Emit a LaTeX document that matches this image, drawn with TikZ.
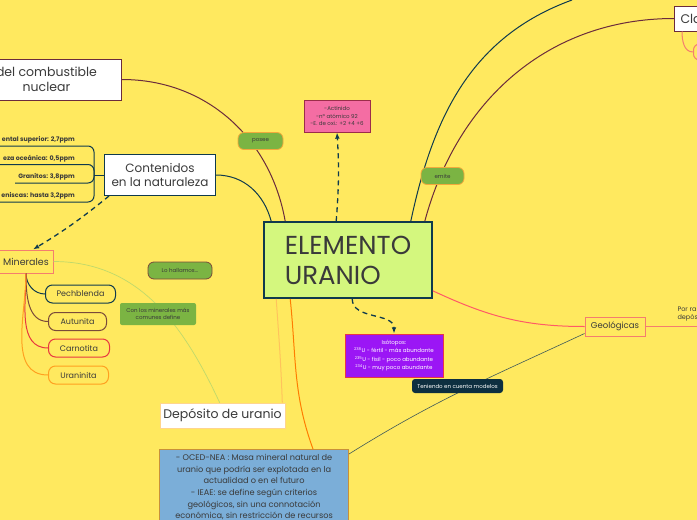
\documentclass[tikz,border=0pt]{standalone}
\usepackage{fontspec}
\setmainfont{Poppins}
\usetikzlibrary{arrows.meta}

\definecolor{paper}{HTML}{FFE95F}
\definecolor{ink}{HTML}{3A3A3A}
\definecolor{limefill}{HTML}{D4F77E}
\definecolor{teal}{HTML}{0F3A4D}
\definecolor{plum}{HTML}{6B2B3C}
\definecolor{salmon}{HTML}{F47E6E}
\definecolor{pinkfill}{HTML}{F46DA3}
\definecolor{pinkedge}{HTML}{9B2D4A}
\definecolor{violet}{HTML}{9B16F5}
\definecolor{violetedge}{HTML}{E8334A}
\definecolor{bluefill}{HTML}{7BAED8}
\definecolor{blueedge}{HTML}{C8903A}
\definecolor{tagg}{HTML}{7BB443}
\definecolor{tagedge}{HTML}{F2A93B}
\definecolor{brownish}{HTML}{7A4A3A}
\definecolor{navy}{HTML}{0D2F40}
\definecolor{lgreen}{HTML}{BFD96B}
\definecolor{lorange}{HTML}{FFC35C}
\definecolor{orange}{HTML}{FF7C00}
\definecolor{redline}{HTML}{FF5A66}
\definecolor{slate}{HTML}{3F5A5A}
\definecolor{carn}{HTML}{E8383F}
\definecolor{uran}{HTML}{FFA020}

\begin{document}
\begin{tikzpicture}[
  x=1pt,
  y=1pt,
  >=Latex,
  topic/.style={draw, fill=white, line width=1pt, align=center, text=ink,
    inner sep=2pt},
  pill/.style={draw, rounded corners=7pt, fill=paper, line width=1pt,
    font=\fontsize{8}{9}\selectfont, text=ink, minimum height=18, anchor=west},
  tag/.style={fill=tagg, rounded corners=6pt, draw=tagedge, line width=.8pt,
    font=\fontsize{5.5}{6.5}\selectfont, text=ink, align=center, inner sep=1pt,
    minimum height=17},
  ppm/.style={font=\fontsize{6.3}{7}\bfseries\selectfont, text=ink, anchor=south east,
    inner xsep=3pt, inner ysep=2.5pt},
  link/.style={line width=1pt},
  dashlink/.style={-{Latex[length=2.2mm]}, line width=1.3pt, dash pattern=on 5pt off 4pt, teal}
]
\fill[paper] (0,0) rectangle (697,-520);
\useasboundingbox (0,0) rectangle (697,-520);

% main topics
\node[draw=teal, fill=limefill, line width=1.6pt, align=left, minimum width=168,
  minimum height=76, font=\fontsize{26}{30}\selectfont, text=ink] (centro) at (348,-260) {ELEMENTO\\URANIO};
\node[topic, draw=plum, anchor=east, minimum width=150, minimum height=41,
  font=\fontsize{12.5}{15}\selectfont] (ciclo) at (122,-79.5) {del combustible\\nuclear};
\node[topic, draw=teal, minimum width=111, minimum height=41,
  font=\fontsize{12}{14.5}\selectfont] (conten) at (160,-175) {Contenidos\\en la naturaleza};
\node[topic, draw=lorange!70, line width=.6pt, minimum width=125, minimum height=25,
  font=\fontsize{12.5}{15}\selectfont] (deposito) at (222.5,-415.5) {Depósito de uranio};
\node[topic, draw=plum, anchor=west, text width=50, align=left, inner xsep=6pt,
  minimum height=25, font=\fontsize{12.5}{15}\selectfont] (clasif) at (674,-18.5) {Cla};
\node[draw=salmon, line width=1pt, rounded corners=6pt, anchor=west, minimum width=30,
  minimum height=16] (clasub) at (693,-52) {};
\node[draw=salmon, fill=paper, line width=1pt, minimum width=60, minimum height=19,
  font=\fontsize{8.5}{10}\selectfont, text=ink] (geol) at (615,-326.5) {Geológicas};
\node[anchor=west, align=left, font=\fontsize{6.5}{8}\selectfont, text=ink] (porra) at (674,-314) {Por ra\\depós};

% info boxes
\node[draw=pinkedge, fill=pinkfill, line width=.8pt, align=center, minimum width=66,
  minimum height=32, font=\fontsize{5.5}{7.5}\selectfont, text=ink] (actin) at (337,-116)
  {-Actínido\\-nº atómico 92\\-E. de oxi.: +2 +4 +6};
\node[draw=violetedge, fill=violet, line width=.8pt, align=center, minimum width=98,
  minimum height=43, font=\fontsize{5.5}{8.5}\selectfont, text=white] (isot) at (394,-355.5)
  {Isótopos:\\\textsuperscript{238}U - fértil - más abundante\\
   \textsuperscript{235}U - fisil - poco abundante\\\textsuperscript{234}U - muy poco abundante};
\node[draw=blueedge, fill=bluefill, line width=.8pt, anchor=north east, align=center,
  minimum width=189, inner xsep=2pt, inner ysep=5pt, font=\fontsize{8.2}{11.6}\selectfont,
  text=ink] (defin) at (349,-449)
  {- OCED-NEA : Masa mineral natural de\\uranio que podría ser explotada en la\\
   actualidad o en el futuro\\- IEAE: se define según criterios\\geológicos, sin una
   connotación\\económica, sin restricción de recursos};

% contenidos
\node[ppm] (ppmA) at (78,-146) {ental superior: 2,7ppm};
\node[ppm] (ppmB) at (78,-164.5) {eza oceánica: 0,5ppm};
\node[ppm] (ppmC) at (78,-183) {Granitos: 3,8ppm};
\node[ppm] (ppmD) at (78,-202) {eniscas: hasta 3,2ppm};
\coordinate (ppmJoin) at ([xshift=-10pt]conten.west);

% minerales
\node[draw=salmon, fill=paper, line width=1pt, minimum width=54, minimum height=23,
  font=\fontsize{9.5}{11}\selectfont, text=ink] (miner) at (26,-261.5) {Minerales};
\node[pill, draw=teal, minimum width=70] (pech) at (45,-294) {Pechblenda};
\node[pill, draw=brownish, minimum width=58] (autu) at (48,-321.5) {Autunita};
\node[pill, draw=carn, minimum width=61] (carno) at (48,-348) {Carnotita};
\node[pill, draw=uran, minimum width=60] (urani) at (48,-375) {Uraninita};

\coordinate (topExit) at (572,0);
\coordinate (geolExit) at (700,-326.5);

% connectors
\draw[link, plum] (ciclo.east) to[out=0,in=100] ([xshift=22pt]centro.north west);
\draw[link, teal] (conten.east) to[out=0,in=105] ([xshift=8pt]centro.north west);
\draw[link, teal, rounded corners=6pt] (ppmA.south west) -| (ppmJoin);
\draw[link, teal, rounded corners=6pt] (ppmB.south west) -| (ppmJoin);
\draw[link, teal, rounded corners=6pt] (ppmC.south west) -| (ppmJoin);
\draw[link, teal, rounded corners=6pt] (ppmD.south west) -| (ppmJoin);
\draw[link, teal] (ppmJoin) -- (conten.west);
\draw[dashlink] ([xshift=5pt]conten.south west) to[bend left=4] ([xshift=7pt]miner.north);
\draw[link, teal] (miner.south) to[out=-90,in=180] (pech.west);
\draw[link, brownish] (miner.south) to[out=-90,in=180] (autu.west);
\draw[link, carn] (miner.south) to[out=-90,in=180] (carno.west);
\draw[link, uran] (miner.south) to[out=-90,in=180] (urani.west);
\draw[line width=.7pt, lgreen] (miner.east) to[out=0,in=115] ([xshift=60pt]deposito.north west);
\draw[link, lorange] ([xshift=13pt]centro.south west) to[out=-86,in=92] ([xshift=-3pt]deposito.north east);
\draw[link, orange] ([xshift=27pt]centro.south west) to[out=-84,in=110] ([xshift=-36pt]defin.north east);
\draw[dashlink] ([xshift=73pt]centro.north west) to[bend right=4] (actin.south);
\draw[dashlink] ([xshift=89pt]centro.south west) to[out=-90,in=90] (isot.north);
\draw[link, teal] ([xshift=-22pt]centro.north east) to[out=78,in=200] (topExit);
\draw[link, plum] ([xshift=-8pt]centro.north east) to[out=75,in=180] (clasif.west);
\draw[link, salmon] ([xshift=8pt]clasif.south west) to[out=-90,in=180] (clasub.west);
\draw[link, redline] ([yshift=8pt]centro.south east) to[out=-25,in=180] (geol.west);
\draw[link, salmon] (geol.east) -- (geolExit);
\draw[line width=.6pt, slate] ([yshift=3pt]geol.south west) to[out=205,in=32] ([yshift=-5pt]defin.north east);

% relation labels
\node[tag, minimum width=45] (posee) at (260.5,-141) {posee};
\node[tag, minimum width=43] (emite) at (442.5,-176) {emite};
\node[tag, draw=brownish, minimum width=64] (hallar) at (180,-270.5) {Lo hallamos...};
\node[tag, draw=none, rounded corners=2pt, minimum width=76, minimum height=22,
  font=\fontsize{5.5}{7.5}\selectfont] (define) at (158,-314) {Con los minerales más\\comunes define};
\node[fill=navy, rounded corners=3pt, minimum width=91, minimum height=14, text=white,
  font=\fontsize{5.5}{6.5}\selectfont] (tenien) at (457.5,-386) {Teniendo en cuenta modelos};
\end{tikzpicture}
\end{document}
